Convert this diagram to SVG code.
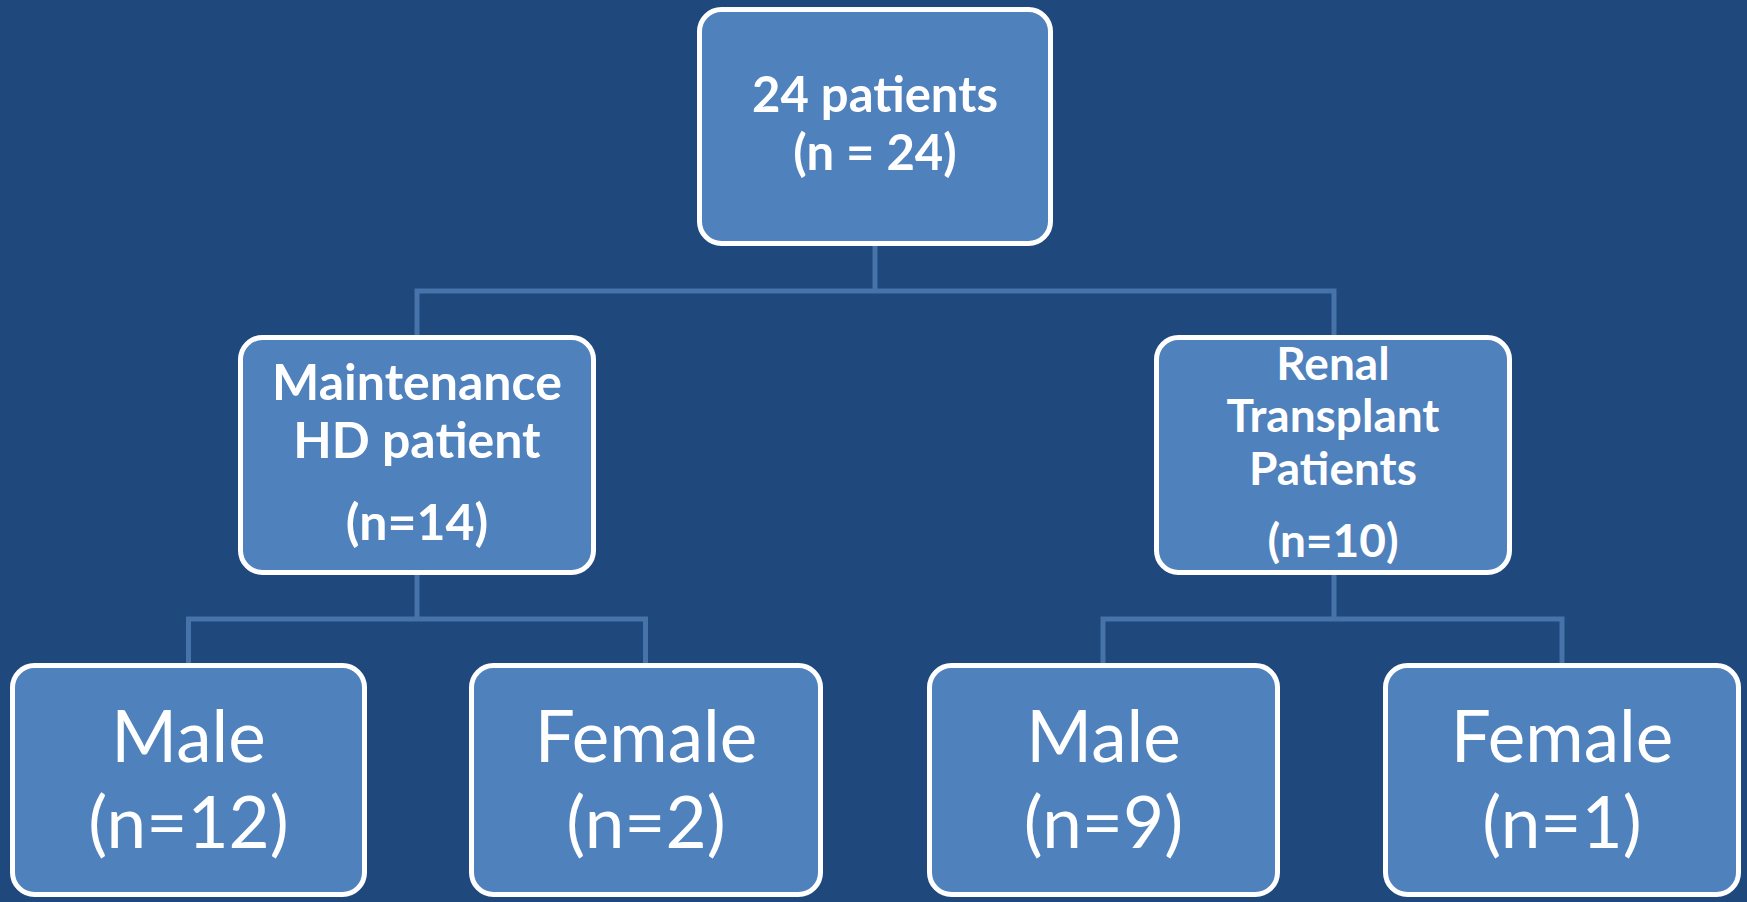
<svg xmlns="http://www.w3.org/2000/svg" width="1747" height="902" viewBox="0 0 1747 902">
<style>
.box{fill:#4f81bd;stroke:#ffffff;stroke-width:5}
.conn{fill:none;stroke:#4673aa;stroke-width:5}
.b{font-family:Lato,"Open Sans",sans-serif;font-weight:bold;fill:#ffffff;text-anchor:middle}
.r{font-family:Lato,"Open Sans",sans-serif;font-weight:normal;fill:#ffffff;text-anchor:middle;font-size:71px}
</style>
<rect width="1747" height="902" fill="#1f497d"/>
<g id="connectors">
<path class="conn" d="M875,246V291M417,335V291H1334V335"/>
<path class="conn" d="M417,575V619M188.5,663V619H645.5V663"/>
<path class="conn" d="M1334,575V619M1103,663V619H1562V663"/>
</g>
<g id="top">
<rect class="box" x="699.5" y="9.5" width="351" height="234" rx="22"/>
<text class="b" font-size="49" x="875" y="112">24 patients</text>
<text class="b" font-size="49" x="875" y="170">(n = 24)</text>
</g>
<g id="hd">
<rect class="box" x="240.5" y="337.5" width="353" height="235" rx="22"/>
<text class="b" font-size="50" x="417" y="400">Maintenance</text>
<text class="b" font-size="50" x="417" y="458">HD patient</text>
<text class="b" font-size="50" x="417" y="540">(n=14)</text>
</g>
<g id="renal">
<rect class="box" x="1156.5" y="337.5" width="353" height="235" rx="22"/>
<text class="b" font-size="46" x="1333" y="380">Renal</text>
<text class="b" font-size="46" x="1333" y="432">Transplant</text>
<text class="b" font-size="46" x="1333" y="485">Patients</text>
<text class="b" font-size="46" x="1333" y="557">(n=10)</text>
</g>
<g id="hd-male">
<rect class="box" x="12.5" y="665.5" width="352" height="229" rx="22"/>
<text class="r" x="188.5" y="762">Male</text>
<text class="r" x="188.5" y="848">(n=12)</text>
</g>
<g id="hd-female">
<rect class="box" x="471.5" y="665.5" width="349" height="229" rx="22"/>
<text class="r" x="646" y="762">Female</text>
<text class="r" x="646" y="848">(n=2)</text>
</g>
<g id="rt-male">
<rect class="box" x="929.5" y="665.5" width="348" height="229" rx="22"/>
<text class="r" x="1103.5" y="762">Male</text>
<text class="r" x="1103.5" y="848">(n=9)</text>
</g>
<g id="rt-female">
<rect class="box" x="1385.5" y="665.5" width="353" height="229" rx="22"/>
<text class="r" x="1562" y="762">Female</text>
<text class="r" x="1562" y="848">(n=1)</text>
</g>
</svg>
